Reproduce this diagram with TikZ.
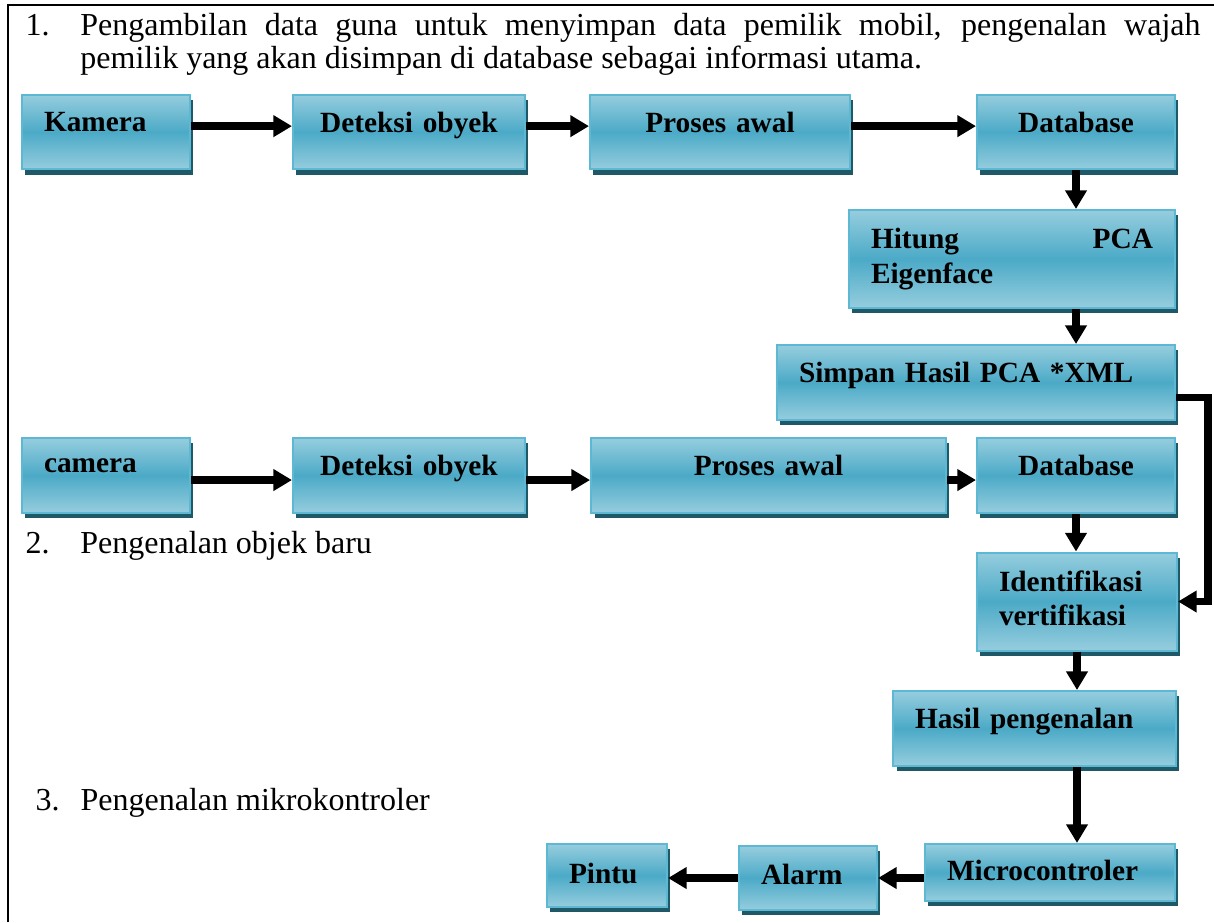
\documentclass[tikz,border=0pt]{standalone}
\usepackage{fontspec}
\setmainfont{Liberation Serif}
\usepackage{xcolor}
\usepackage{tikz}
\usetikzlibrary{arrows.meta, shadows}

\definecolor{boxtop}{HTML}{96CDDE}
\definecolor{boxmid}{HTML}{4BAAC7}
\definecolor{boxline}{HTML}{5DB8D3}
\definecolor{boxshadow}{HTML}{1F5866}

\tikzset{
  blok/.style={rectangle, draw=boxline, line width=0.75pt,
    top color=boxtop, bottom color=boxtop, middle color=boxmid,
    drop shadow={shadow xshift=1.3pt, shadow yshift=-1.9pt, fill=boxshadow, opacity=1},
    font=\fontsize{11}{13}\selectfont\bfseries,
    inner xsep=8.25pt, inner ysep=0pt, minimum height=28.1pt,
    text depth=7.5pt, align=left},
  panah/.style={-{Triangle[length=7pt,width=7.8pt]}, line width=2.8pt},
  teks/.style={font=\fontsize{12}{12.4}\selectfont, inner sep=0pt, anchor=base west},
}

\begin{document}
\begin{tikzpicture}[x=0.375pt, y=-0.375pt]
\useasboundingbox (0,0) rectangle (1214,922);

\draw[line width=0.75pt] (8,922) -- (8,5) -- (1214,5);

\node[teks, text width=440.6pt, align=justify] (butir1) at (25,35)
  {\hangindent=20.6pt \hangafter=1 \makebox[20.6pt][l]{1.}Pengambilan data guna untuk menyimpan data pemilik mobil, pengenalan wajah\linebreak pemilik yang akan disimpan di database sebagai informasi utama.\par};
\node[teks] (butir2) at (25,553) {\makebox[20.6pt][l]{2.}Pengenalan objek baru};
\node[teks] (butir3) at (35,810) {\makebox[16.9pt][l]{3.}Pengenalan mikrokontroler};

\node[blok, minimum width=63pt, text width=46.5pt] (kamera) at (106,132) {Kamera};
\node[blok, minimum width=87pt, text width=70.5pt, align=center] (deteksi1) at (409,132) {Deteksi obyek};
\node[blok, minimum width=97.5pt, text width=81pt, align=center] (proses1) at (720,132) {Proses awal};
\node[blok, minimum width=74.25pt, text width=57.75pt, align=center] (db1) at (1076,132) {Database};
\node[blok, minimum width=122.25pt, text width=105.75pt, minimum height=36.75pt, text depth=15.5pt] (pca) at (1012,259) {Hitung\hfill PCA\\Eigenface};
\node[blok, minimum width=149.25pt, text width=132.75pt] (simpan) at (976,382.5) {Simpan Hasil PCA *XML};

\node[blok, minimum width=63pt, text width=46.5pt] (camera) at (106,475.5) {camera};
\node[blok, minimum width=87pt, text width=70.5pt, align=center] (deteksi2) at (409,475.5) {Deteksi obyek};
\node[blok, minimum width=133.1pt, text width=116.6pt, align=center] (proses2) at (768.5,475.5) {Proses awal};
\node[blok, minimum width=74.25pt, text width=57.75pt, align=center] (db2) at (1076,475.5) {Database};
\node[blok, minimum width=75pt, text width=58.5pt, minimum height=36.75pt, text depth=15.5pt] (identifikasi) at (1077,601.5) {Identifikasi\\vertifikasi};
\node[blok, minimum width=106.1pt, text width=89.6pt] (hasil) at (1034.5,728.5) {Hasil pengenalan};

\node[blok, minimum width=93.75pt, text width=77.25pt, minimum height=21.4pt, text depth=1.5pt] (micro) at (1050,872.5) {Microcontroler};
\node[blok, minimum width=51.75pt, text width=35.25pt, minimum height=24pt, text depth=2.5pt] (alarm) at (808,878) {Alarm};
\node[blok, minimum width=45pt, text width=28.5pt, minimum height=23.6pt, text depth=1.5pt] (pintu) at (607,875.5) {Pintu};

\draw[panah] ([yshift=2.2pt]kamera.east) -- ([yshift=2.2pt]deteksi1.west);
\draw[panah] ([yshift=2.2pt]deteksi1.east) -- ([yshift=2.2pt]proses1.west);
\draw[panah] ([yshift=2.2pt]proses1.east) -- ([yshift=2.2pt]db1.west);
\draw[panah] (db1.south) -- (db1.south |- pca.north);
\draw[panah] (db1.south |- pca.south) -- (db1.south |- simpan.north);
\draw[panah] ([yshift=-5.6pt]simpan.east) -- ++(32,0) |- (identifikasi.east);

\draw[panah] ([yshift=-1.7pt]camera.east) -- ([yshift=-1.7pt]deteksi2.west);
\draw[panah] ([yshift=-1.7pt]deteksi2.east) -- ([yshift=-1.7pt]proses2.west);
\draw[panah] ([yshift=-1.7pt]proses2.east) -- ([yshift=-1.7pt]db2.west);
\draw[panah] (db2.south) -- (db2.south |- identifikasi.north);
\draw[panah] (identifikasi.south) -- (identifikasi.south |- hasil.north);
\draw[panah] (identifikasi.south |- hasil.south) -- (identifikasi.south |- micro.north);
\draw[panah] (micro.west |- alarm.east) -- (alarm.east);
\draw[panah] (alarm.west) -- (alarm.west -| pintu.east);
\end{tikzpicture}
\end{document}
